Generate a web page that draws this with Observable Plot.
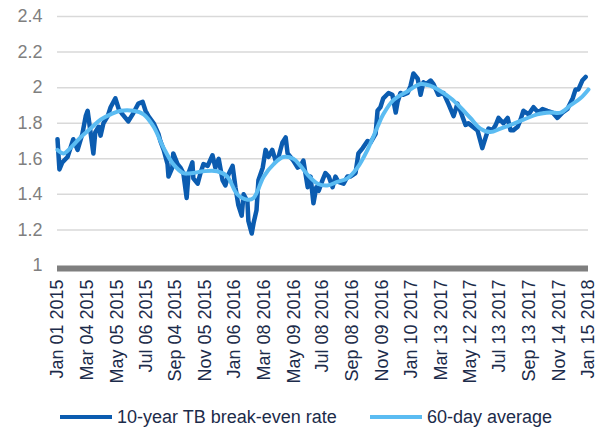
<!DOCTYPE html>
<html><head><meta charset="utf-8">
<script src="https://cdn.jsdelivr.net/npm/d3@7"></script>
<script src="https://cdn.jsdelivr.net/npm/@observablehq/plot@0.6"></script>
<style>
body{margin:0;background:#fff;font-family:"Liberation Sans",Arial,sans-serif;}
#wrap{position:relative;width:602px;height:431px;overflow:hidden}
#legend{position:absolute;top:405px;left:0;width:602px;height:24px;font-size:18px;color:#1c2b4a}
.item{position:absolute;top:0;display:flex;align-items:center;height:24px;white-space:nowrap}
.sw{display:inline-block;width:52px;height:4px;margin-right:5px}
</style></head><body><div id="wrap"><div id="chart"></div><div id="legend"></div></div>
<script>
const rawDates = ["2015-01-01","2015-01-05","2015-01-11","2015-01-22","2015-02-03","2015-02-12","2015-02-22","2015-03-01","2015-03-05","2015-03-11","2015-03-17","2015-03-21","2015-03-28","2015-04-01","2015-04-07","2015-04-16","2015-04-22","2015-05-02","2015-05-09","2015-05-17","2015-05-23","2015-05-29","2015-06-07","2015-06-13","2015-06-19","2015-06-28","2015-07-04","2015-07-10","2015-07-21","2015-07-31","2015-08-04","2015-08-11","2015-08-19","2015-08-21","2015-08-29","2015-08-31","2015-09-09","2015-09-15","2015-09-21","2015-09-28","2015-10-02","2015-10-10","2015-10-12","2015-10-21","2015-10-27","2015-11-02","2015-11-11","2015-11-21","2015-11-27","2015-12-04","2015-12-12","2015-12-18","2015-12-24","2016-01-02","2016-01-08","2016-01-14","2016-01-21","2016-01-25","2016-02-02","2016-02-04","2016-02-11","2016-02-15","2016-02-21","2016-02-25","2016-03-05","2016-03-11","2016-03-17","2016-03-25","2016-04-01","2016-04-07","2016-04-15","2016-04-22","2016-04-26","2016-05-02","2016-05-08","2016-05-17","2016-05-23","2016-05-29","2016-06-07","2016-06-13","2016-06-19","2016-06-25","2016-06-30","2016-07-08","2016-07-14","2016-07-21","2016-07-29","2016-08-04","2016-08-10","2016-08-21","2016-08-29","2016-09-04","2016-09-15","2016-09-21","2016-09-30","2016-10-10","2016-10-16","2016-10-27","2016-10-31","2016-11-06","2016-11-12","2016-11-23","2016-12-01","2016-12-08","2016-12-12","2016-12-18","2016-12-24","2017-01-02","2017-01-08","2017-01-14","2017-01-23","2017-01-29","2017-02-04","2017-02-10","2017-02-19","2017-02-25","2017-03-07","2017-03-18","2017-03-28","2017-04-08","2017-04-16","2017-04-22","2017-05-03","2017-05-09","2017-05-18","2017-05-28","2017-06-07","2017-06-14","2017-06-20","2017-06-28","2017-07-05","2017-07-11","2017-07-21","2017-07-30","2017-08-05","2017-08-11","2017-08-20","2017-08-26","2017-09-01","2017-09-12","2017-09-22","2017-10-02","2017-10-11","2017-10-21","2017-11-01","2017-11-11","2017-11-22","2017-12-02","2017-12-13","2017-12-19","2017-12-25","2018-01-02","2018-01-09","2018-01-15"];
const rawValues = [1.71,1.54,1.58,1.61,1.71,1.65,1.74,1.84,1.87,1.75,1.63,1.75,1.78,1.73,1.80,1.84,1.89,1.94,1.88,1.85,1.83,1.81,1.85,1.88,1.91,1.92,1.87,1.84,1.80,1.74,1.70,1.65,1.57,1.50,1.55,1.63,1.57,1.55,1.52,1.38,1.52,1.58,1.49,1.46,1.52,1.57,1.56,1.62,1.55,1.60,1.48,1.45,1.51,1.56,1.44,1.34,1.28,1.40,1.36,1.25,1.18,1.24,1.31,1.48,1.55,1.65,1.61,1.65,1.59,1.61,1.69,1.72,1.63,1.61,1.59,1.55,1.56,1.59,1.44,1.50,1.35,1.44,1.42,1.48,1.52,1.50,1.44,1.50,1.47,1.46,1.50,1.50,1.52,1.63,1.66,1.70,1.69,1.74,1.87,1.89,1.94,1.97,1.96,1.86,1.92,1.97,1.96,1.97,2.01,2.08,2.05,1.96,2.03,2.02,2.04,2.02,1.96,1.97,1.91,1.84,1.91,1.87,1.79,1.80,1.78,1.76,1.66,1.72,1.77,1.76,1.79,1.83,1.80,1.83,1.76,1.76,1.78,1.82,1.87,1.85,1.89,1.86,1.88,1.87,1.86,1.83,1.86,1.88,1.94,1.99,1.99,2.04,2.06];
const avgDates = ["2015-01-01","2015-01-14","2015-01-28","2015-02-18","2015-03-11","2015-04-01","2015-04-22","2015-05-13","2015-06-09","2015-06-30","2015-07-21","2015-08-11","2015-08-31","2015-09-21","2015-10-12","2015-11-02","2015-12-01","2015-12-22","2016-01-12","2016-02-02","2016-02-15","2016-03-07","2016-03-28","2016-04-17","2016-05-08","2016-05-23","2016-06-07","2016-06-28","2016-07-18","2016-08-08","2016-08-29","2016-09-19","2016-10-10","2016-10-31","2016-11-12","2016-12-03","2017-01-02","2017-01-29","2017-02-19","2017-03-12","2017-04-02","2017-04-22","2017-05-13","2017-06-03","2017-06-24","2017-07-15","2017-08-05","2017-09-01","2017-09-30","2017-10-28","2017-11-18","2017-12-08","2017-12-29","2018-01-15"];
const avgValues = [1.65,1.63,1.66,1.72,1.77,1.82,1.85,1.87,1.87,1.85,1.78,1.66,1.57,1.52,1.52,1.53,1.53,1.50,1.40,1.37,1.38,1.50,1.57,1.61,1.60,1.56,1.51,1.46,1.45,1.47,1.49,1.55,1.65,1.78,1.85,1.93,1.98,2.02,2.01,1.98,1.94,1.89,1.83,1.77,1.75,1.77,1.79,1.82,1.85,1.86,1.86,1.90,1.94,1.99];
const tickDates = ["2015-01-01","2015-03-04","2015-05-05","2015-07-06","2015-09-04","2015-11-05","2016-01-06","2016-03-08","2016-05-09","2016-07-08","2016-09-08","2016-11-09","2017-01-10","2017-03-13","2017-05-12","2017-07-13","2017-09-13","2017-11-14","2018-01-15"];
const yTicks = [1.2,1.4,1.6,1.8,2.0,2.2,2.4];
const seriesNames = ["10-year TB break-even rate","60-day average"];
const seriesColors = ["#0b5cb0","#5bbcf2"];

const parse = d3.utcParse("%Y-%m-%d");
const raw = rawDates.map((d,i)=>({date:parse(d), value:rawValues[i]}));
const avg = avgDates.map((d,i)=>({date:parse(d), value:avgValues[i]}));
const ticks = tickDates.map(parse);

const chart = Plot.plot({
  width: 602, height: 400,
  marginLeft: 57, marginRight: 14, marginTop: 16, marginBottom: 135,
  style: {fontFamily: '"Liberation Sans", Arial, sans-serif', background: "#fff"},
  x: {type: "utc", domain: [parse("2015-01-01"), parse("2018-01-15")]},
  y: {domain: [1, 2.4]},
  marks: [
    Plot.gridY(yTicks, {stroke: "#d9d9d9", strokeOpacity: 1, strokeWidth: 1.5}),
    Plot.axisY([1, ...yTicks], {tickSize: 0, tickPadding: 15, fontSize: 18, color: "#7f7f7f", tickFormat: d => String(+d.toFixed(1)), label: null}),
    Plot.axisX(ticks, {tickSize: 0, tickPadding: 14, tickRotate: -90, fontSize: 18, color: "#1c2b4a", tickFormat: d3.utcFormat("%b %d %Y"), label: null}),
    Plot.ruleY([1], {stroke: "#7f7f7f", strokeWidth: 6, dy: 3}),
    Plot.line(raw, {x: "date", y: "value", stroke: seriesColors[0], strokeWidth: 4.5, strokeLinejoin: "round"}),
    Plot.line(avg, {x: "date", y: "value", stroke: seriesColors[1], strokeWidth: 4, curve: "catmull-rom"})
  ]
});
document.getElementById("chart").appendChild(chart);

const legend = document.getElementById("legend");
const lefts = [60, 370];
seriesNames.forEach((n,i)=>{
  const it = document.createElement("div");
  it.className = "item"; it.style.left = lefts[i] + "px";
  const sw = document.createElement("span"); sw.className = "sw"; sw.style.background = seriesColors[i];
  const tx = document.createElement("span"); tx.textContent = n;
  it.appendChild(sw); it.appendChild(tx); legend.appendChild(it);
});
</script></body></html>
